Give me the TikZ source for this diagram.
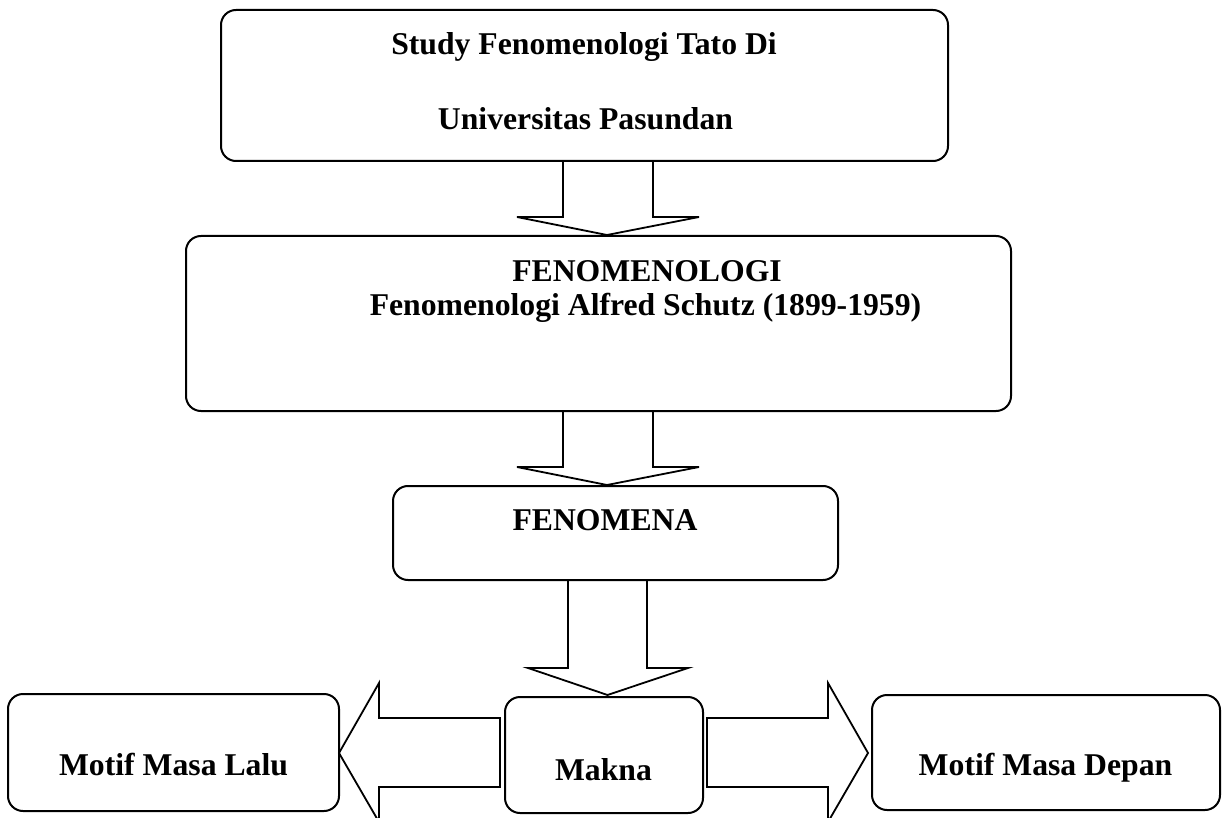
\documentclass[tikz,border=0pt]{standalone}
\usepackage{fontspec}
\setmainfont{Liberation Serif}
\begin{document}
\begin{tikzpicture}[x=0.5pt,y=-0.5pt,
  box/.style={draw, line width=1pt, rounded corners=7.5pt, inner sep=0pt, outer sep=0pt},
  blk/.style={draw, line width=0.9pt, line join=miter},
  lbl/.style={font=\fontsize{15.85}{18}\selectfont\bfseries, anchor=base, inner sep=0pt}]
\useasboundingbox (0,0) rectangle (1226,818);

% boxes
\node[box, minimum width=363.5pt, minimum height=75.5pt] (b1) at (584.5,85.5) {};
\node[box, minimum width=412.5pt, minimum height=87.5pt] (b2) at (598.5,323.5) {};
\node[box, minimum width=222.5pt, minimum height=47pt] (b3) at (615.5,533) {};
\node[box, minimum width=99pt, minimum height=58pt] (mk) at (604,755) {};
\node[box, minimum width=165.5pt, minimum height=58.5pt] (ml) at (173.5,752.5) {};
\node[box, minimum width=174pt, minimum height=57.5pt] (md) at (1046,752.5) {};

% labels
\node[lbl] (t1) at (584,55) {Study Fenomenologi Tato Di};
\node[lbl] (t2) at (585.5,130) {Universitas Pasundan};
\node[lbl] (t3) at (647,282) {FENOMENOLOGI};
\node[lbl] (t4) at (645.5,315) {Fenomenologi Alfred Schutz (1899-1959)};
\node[lbl] (t5) at (605,530) {FENOMENA};
\node[lbl] (t6) at (603.5,780) {Makna};
\node[lbl] (t7) at (173.5,775) {Motif Masa Lalu};
\node[lbl] (t8) at (1045.5,775) {Motif Masa Depan};

% block arrows
\draw[blk] (563,162) -- (563,217) -- (517,217) -- (607,235) -- (699,217) -- (653,217) -- (653,162);
\draw[blk] (563,412) -- (563,467) -- (517,467) -- (607,485) -- (699,467) -- (653,467) -- (653,412);
\draw[blk] (568,580) -- (568,668) -- (528,668) -- (607.5,695) -- (688,668) -- (647,668) -- (647,580);
\draw[blk] (500,718) -- (379,718) -- (379,683) -- (339,753) -- (379,822) -- (379,787) -- (500,787) -- cycle;
\draw[blk] (707,718) -- (828,718) -- (828,683) -- (868,753) -- (828,822) -- (828,787) -- (707,787) -- cycle;
\end{tikzpicture}
\end{document}
